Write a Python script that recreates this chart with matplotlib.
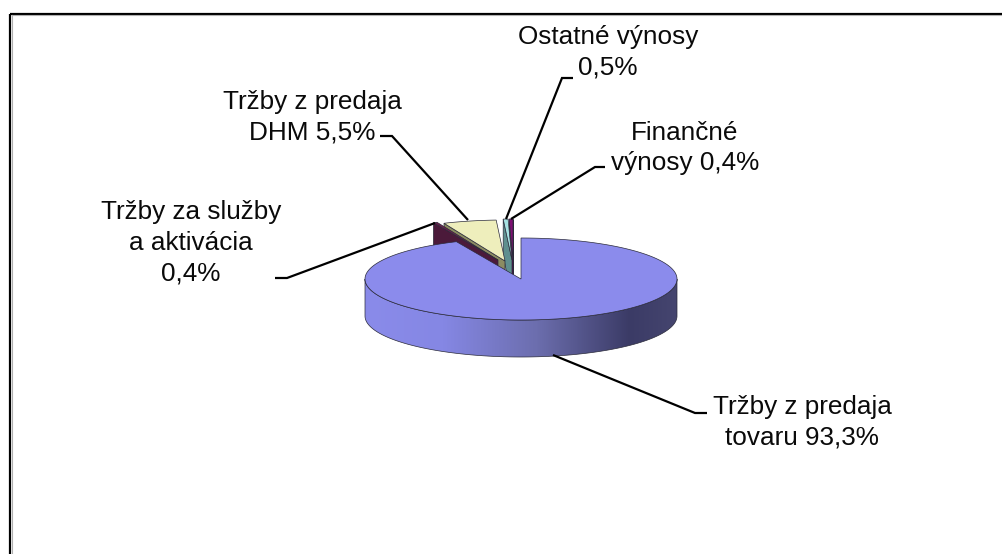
import numpy as np
import matplotlib
matplotlib.use('Agg')
import matplotlib.pyplot as plt
from matplotlib.colors import LinearSegmentedColormap
from matplotlib.patches import Polygon

plt.rcParams['font.family'] = ['Liberation Sans', 'DejaVu Sans']

# slices, clockwise from the top of the pie
names = ['Tržby z predaja\ntovaru 93,3%', 'Tržby za služby\na aktivácia\n0,4%',
         'Tržby z predaja\nDHM 5,5%', 'Ostatné výnosy\n0,5%', 'Finančné\nvýnosy 0,4%']
values = [93.3, 0.4, 5.5, 0.5, 0.4]

top_colors = ['#8b8bec', '#6a1f4c', '#eeeebc', '#a6e2e2', '#7d0f72']
wall_colors = ['#5f5fa8', '#4b1a3a', '#8c8c62', '#5f8f8f', '#5c0b55']
explode = [(0, 0), (-23, -19), (-16, -18), (-9, -19), (-8, -19)]

# pie geometry in pixels
cx, cy = 521, 279
rx, ry = 156, 41
depth = 37

# label text centre, then its leader line
label_xy = [(802, 422), (191, 243), (312, 117), (608, 52), (685, 148)]
leaders = [[(553, 355), (695, 413), (707, 413)],
           [(435, 223), (287, 278), (275, 278)],
           [(468, 220), (392, 136), (380, 136)],
           [(506, 219), (562, 78), (573, 78)],
           [(511, 219), (595, 167), (605, 167)]]

wall_cmap = LinearSegmentedColormap.from_list(
    'wall', [(0, '#8a8bea'), (0.25, '#8587e4'), (0.55, '#6c6eae'), (0.85, '#3b3b66'), (1, '#45456f')])


def pt(theta, ox=0, oy=0, drop=0):
    return cx + ox + rx * np.sin(theta), cy + oy + drop - ry * np.cos(theta)


def arc(t1, t2, ox=0, oy=0, drop=0):
    t = np.linspace(t1, t2, max(int(abs(t2 - t1) * 60), 3))
    return np.column_stack(pt(t, ox, oy, drop))


def draw_slice(ax, t1, t2, off, top, wall, z):
    ox, oy = off
    lw = 0.5
    edge = '#2a2a3a'
    # radial walls, only the ones that look towards the viewer
    for t, visible in ((t1, np.sin(t1) < 0), (t2, np.sin(t2) > 0)):
        if visible:
            quad = [pt(t, ox, oy), pt(t, ox, oy, depth), (cx + ox, cy + oy + depth), (cx + ox, cy + oy)]
            ax.add_patch(Polygon(quad, fc=wall, ec=edge, lw=lw, zorder=z))
    # outer wall, front half only
    a, b = max(t1, np.pi / 2), min(t2, 3 * np.pi / 2)
    if b > a:
        shape = np.vstack([arc(a, b, ox, oy), arc(b, a, ox, oy, depth)])
        poly = Polygon(shape, fc='none', ec=edge, lw=lw, zorder=z + 0.2)
        ax.add_patch(poly)
        grad = np.linspace(0, 1, 256).reshape(1, -1)
        im = ax.imshow(grad, extent=(cx + ox - rx, cx + ox + rx, 554, 0), cmap=wall_cmap,
                       aspect='auto', zorder=z + 0.1)
        im.set_clip_path(poly)
    # top face
    face = np.vstack([[(cx + ox, cy + oy)], arc(t1, t2, ox, oy)])
    ax.add_patch(Polygon(face, fc=top, ec=edge, lw=lw, zorder=z + 0.3))


fig = plt.figure(figsize=(10.02, 5.54), dpi=100)
ax = fig.add_axes([0, 0, 1, 1])

# turn the values into clockwise angles, first slice starts at the top
total = sum(values)
ends = np.cumsum(values) / total * 2 * np.pi
starts = np.concatenate([[0], ends[:-1]])

# back to front: the small exploded slices first, the big one last
for i in [4, 3, 2, 1, 0]:
    draw_slice(ax, starts[i], ends[i], explode[i], top_colors[i], wall_colors[i], 2 + (4 - i))

for name, xy, line in zip(names, label_xy, leaders):
    xs, ys = zip(*line)
    ax.plot(xs, ys, color='black', lw=1.6, zorder=10, solid_capstyle='butt', solid_joinstyle='miter')
    ax.text(xy[0], xy[1], name, ha='center', va='center', fontsize=18.8, color='#0a0a0a',
            linespacing=1.36, zorder=11)

# chart frame, cut off at right and bottom
ax.plot([10.5, 10.5], [554, 13.5], color='black', lw=1.6, zorder=1, solid_capstyle='butt')
ax.plot([10.5, 1002], [13.5, 13.5], color='black', lw=1.6, zorder=1, solid_capstyle='butt')
ax.plot([12, 12], [554, 15], color='#b0b0b0', lw=0.8, zorder=1)
ax.plot([12, 1002], [15, 15], color='#b0b0b0', lw=0.8, zorder=1)

ax.set_xlim(0, 1002)
ax.set_ylim(554, 0)
ax.axis('off')

fig.savefig('out.png', dpi=100)
